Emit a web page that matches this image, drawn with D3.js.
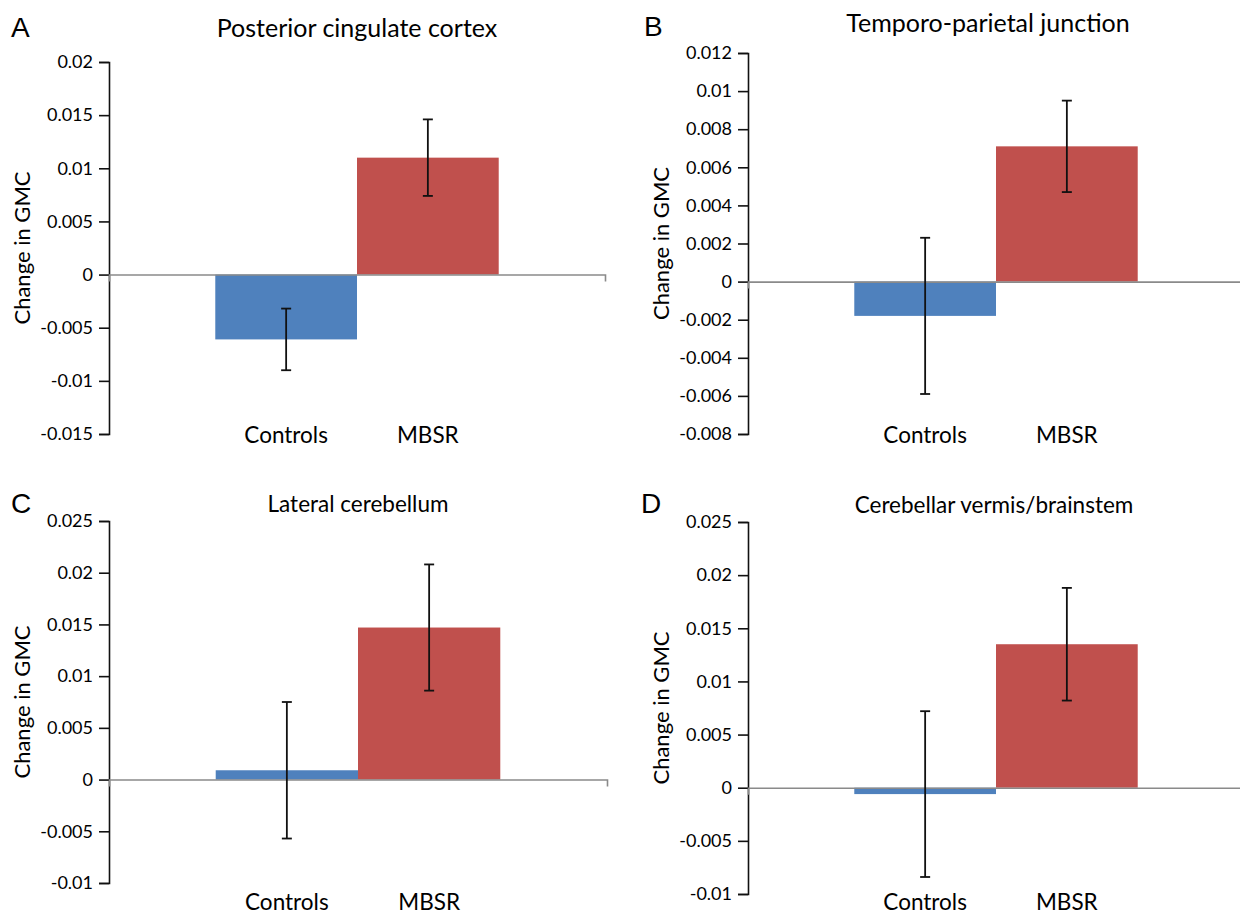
<!DOCTYPE html>
<html>
<head>
<meta charset="utf-8">
<script src="https://cdn.jsdelivr.net/npm/d3@7"></script>
<style>
  body { margin: 0; background: #ffffff; }
  text { font-family: Lato, "Open Sans", sans-serif; fill: #000; }
</style>
</head>
<body>
<div id="chart"></div>
<script>

// *************************************
// Data
// *************************************

const groups = ["Controls", "MBSR"];
const regions = ["Posterior cingulate cortex", "Temporo-parietal junction", "Lateral cerebellum", "Cerebellar vermis/brainstem"];
const letters = ["A", "B", "C", "D"];

// mean change in GMC per group [Controls, MBSR]
const means = [
  [-0.0061, 0.0110],
  [-0.0018, 0.0071],
  [0.0009, 0.0147],
  [-0.0006, 0.0135]
];
// error bar half-lengths
const errors = [
  [0.0029, 0.0036],
  [0.0041, 0.0024],
  [0.0066, 0.0061],
  [0.0078, 0.0053]
];

const yDomains = [[-0.015, 0.02], [-0.008, 0.012], [-0.01, 0.025], [-0.01, 0.025]];
const yTicks = [
  [-0.015, -0.01, -0.005, 0, 0.005, 0.01, 0.015, 0.02],
  [-0.008, -0.006, -0.004, -0.002, 0, 0.002, 0.004, 0.006, 0.008, 0.01, 0.012],
  [-0.01, -0.005, 0, 0.005, 0.01, 0.015, 0.02, 0.025],
  [-0.01, -0.005, 0, 0.005, 0.01, 0.015, 0.02, 0.025]
];
const tickLabels = yTicks.map(t => t.map(v => String(v)));

const colors = ["#4F81BD", "#C0504D"];

// *************************************
// Layout of the four panels
// *************************************

const layout = [
  {x0: 109, x1: 605,  top: 62,  bottom: 434, titleX: 357, titleY: 37,  letterX: 11,  letterY: 37,  labelY: 443},
  {x0: 748, x1: 1244, top: 53,  bottom: 434, titleX: 988, titleY: 32,  letterX: 644, letterY: 36,  labelY: 443},
  {x0: 109, x1: 607,  top: 521, bottom: 883, titleX: 358, titleY: 512, letterX: 11,  letterY: 513, labelY: 910},
  {x0: 748, x1: 1244, top: 522, bottom: 894, titleX: 994, titleY: 513, letterX: 641, letterY: 513, labelY: 910}
];
const titleSizes = [25, 25, 22.5, 22.5];

const svg = d3.select("#chart")
  .append("svg")
  .attr("width", 1240)
  .attr("height", 914)
  .style("background-color", "#ffffff");

layout.forEach((p, i) => {

  const g = svg.append("g").attr("class", "panel");

  const x = d3.scaleBand()
    .domain(groups)
    .range([p.x0, p.x1])
    .paddingInner(0)
    .paddingOuter(0.75);

  const y = d3.scaleLinear()
    .domain(yDomains[i])
    .range([p.bottom, p.top]);

  // y axis
  const yAxis = g.append("g")
    .attr("transform", `translate(${p.x0},0)`)
    .call(d3.axisLeft(y)
      .tickValues(yTicks[i])
      .tickFormat((d, k) => tickLabels[i][k])
      .tickSize(10)
      .tickSizeOuter(10)
      .tickPadding(6));
  yAxis.select(".domain").attr("stroke", "#111").attr("stroke-width", 1.6);
  yAxis.selectAll(".tick line").attr("stroke", "#111").attr("stroke-width", 1.6);
  yAxis.selectAll(".tick text")
    .style("font-family", "Lato, sans-serif")
    .style("font-size", "18px")
    .attr("fill", "#000");

  // bars
  g.selectAll("rect.bar")
    .data(groups)
    .join("rect")
    .attr("class", "bar")
    .attr("x", d => x(d))
    .attr("width", x.bandwidth())
    .attr("y", (d, k) => y(Math.max(0, means[i][k])))
    .attr("height", (d, k) => Math.abs(y(means[i][k]) - y(0)))
    .attr("fill", (d, k) => colors[k]);

  // zero (category) axis with end ticks
  const xAxis = g.append("g")
    .attr("transform", `translate(0,${y(0)})`)
    .call(d3.axisBottom(x).tickValues([]).tickSizeOuter(7));
  xAxis.select(".domain").attr("stroke", "#8a8a8a").attr("stroke-width", 1.6);

  // error bars
  const eb = g.selectAll("g.err")
    .data(groups)
    .join("g")
    .attr("class", "err");
  const cx = d => x(d) + x.bandwidth() / 2;
  eb.append("line")
    .attr("x1", cx).attr("x2", cx)
    .attr("y1", (d, k) => y(means[i][k] + errors[i][k]))
    .attr("y2", (d, k) => y(means[i][k] - errors[i][k]));
  eb.append("line")
    .attr("x1", d => cx(d) - 5).attr("x2", d => cx(d) + 5)
    .attr("y1", (d, k) => y(means[i][k] + errors[i][k]))
    .attr("y2", (d, k) => y(means[i][k] + errors[i][k]));
  eb.append("line")
    .attr("x1", d => cx(d) - 5).attr("x2", d => cx(d) + 5)
    .attr("y1", (d, k) => y(means[i][k] - errors[i][k]))
    .attr("y2", (d, k) => y(means[i][k] - errors[i][k]));
  eb.selectAll("line").attr("stroke", "#111").attr("stroke-width", 1.8);

  // group labels
  g.selectAll("text.group")
    .data(groups)
    .join("text")
    .attr("class", "group")
    .attr("x", cx)
    .attr("y", p.labelY)
    .attr("text-anchor", "middle")
    .style("font-size", "22.5px")
    .text(d => d);

  // y axis title
  g.append("text")
    .attr("transform", `translate(${p.x0 - 79},${(p.top + p.bottom) / 2}) rotate(-90)`)
    .attr("text-anchor", "middle")
    .style("font-size", "22px")
    .text("Change in GMC");

  // panel title
  g.append("text")
    .attr("x", p.titleX)
    .attr("y", p.titleY)
    .attr("text-anchor", "middle")
    .style("font-size", titleSizes[i] + "px")
    .text(regions[i]);

  // panel letter
  g.append("text")
    .attr("x", p.letterX)
    .attr("y", p.letterY)
    .style("font-family", "'Liberation Sans', Arial, sans-serif")
    .style("font-size", "28px")
    .text(letters[i]);
});

</script>
</body>
</html>
